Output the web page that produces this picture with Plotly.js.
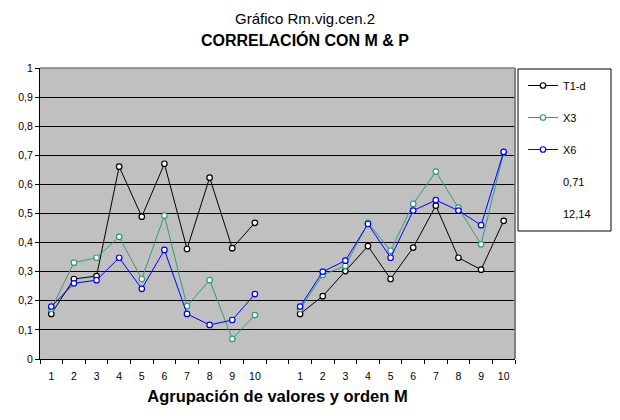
<!DOCTYPE html>
<html>
<head>
<meta charset="utf-8">
<script src="https://cdn.plot.ly/plotly-3.0.1.min.js"></script>
<style>
  html, body { margin: 0; padding: 0; background: #ffffff; }
  #chart { width: 620px; height: 420px; }
</style>
</head>
<body>
<div id="chart"></div>
<script>
// Category labels (two groups of orden M, separated by an empty slot)
var categories = ['1', '2', '3', '4', '5', '6', '7', '8', '9', '10'];

// Series values, group 1 and group 2
var t1d_g1 = [0.155, 0.275, 0.285, 0.661, 0.489, 0.671, 0.378, 0.623, 0.381, 0.468];
var t1d_g2 = [0.155, 0.216, 0.302, 0.388, 0.275, 0.383, 0.527, 0.348, 0.307, 0.475];

var x3_g1 = [0.172, 0.331, 0.348, 0.420, 0.275, 0.493, 0.182, 0.271, 0.069, 0.151];
var x3_g2 = [0.172, 0.289, 0.320, 0.468, 0.372, 0.533, 0.644, 0.520, 0.394, 0.710];

var x6_g1 = [0.180, 0.260, 0.271, 0.348, 0.241, 0.375, 0.155, 0.117, 0.134, 0.223];
var x6_g2 = [0.180, 0.300, 0.338, 0.464, 0.348, 0.510, 0.546, 0.510, 0.460, 0.712];

// Extra legend entries (no marks)
var extraLegend = ['0,71', '12,14'];

// Y tick labels
var yTickVals = [0, 0.1, 0.2, 0.3, 0.4, 0.5, 0.6, 0.7, 0.8, 0.9, 1];
var yTickText = ['0', '0,1', '0,2', '0,3', '0,4', '0,5', '0,6', '0,7', '0,8', '0,9', '1'];

// Build positions: group 1 at 1..10, empty slot, group 2 at 12..21
var n = categories.length;
var xPos = [], tickVals = [], tickText = [];
for (var i = 0; i < n; i++) { xPos.push(i + 1); tickVals.push(i + 1); tickText.push(categories[i]); }
xPos.push(n + 1);
for (var j = 0; j < n; j++) { xPos.push(n + 2 + j); tickVals.push(n + 2 + j); tickText.push(categories[j]); }
function join(a, b) { return a.concat([null]).concat(b); }

function series(name, g1, g2, color, grp) {
  return {
    type: 'scatter', mode: 'lines+markers', name: name, legendgroup: grp,
    x: xPos, y: join(g1, g2), connectgaps: false,
    line: { color: color, width: 1 },
    marker: { symbol: 'circle', size: 5.5, color: '#ffffff', line: { color: color, width: 1.2 } },
    hoverinfo: 'skip'
  };
}

var traces = [
  series('T1-d', t1d_g1, t1d_g2, '#000000', 'a'),
  series('X3', x3_g1, x3_g2, '#339980', 'b'),
  series('X6', x6_g1, x6_g2, '#0000ff', 'c')
];
extraLegend.forEach(function (lbl, k) {
  traces.push({
    type: 'scatter', mode: 'lines', name: lbl, legendgroup: 'e' + k,
    x: [null], y: [null],
    line: { color: 'rgba(0,0,0,0)', width: 0 }, hoverinfo: 'skip'
  });
});

var font = 'Liberation Sans, Arial, sans-serif';
var layout = {
  width: 620, height: 420,
  margin: { l: 40, r: 105, t: 68, b: 61 },
  paper_bgcolor: '#ffffff',
  plot_bgcolor: '#c0c0c0',
  font: { family: font, size: 11, color: '#000000' },
  title: {
    text: 'Gráfico Rm.vig.cen.2',
    font: { family: font, size: 15, color: '#000000' },
    x: 0.492, xanchor: 'center', y: 1 - 19 / 420, yanchor: 'middle'
  },
  annotations: [{
    text: '<b>CORRELACIÓN CON M &amp; P</b>',
    xref: 'paper', yref: 'paper', x: (305 - 40) / 475, y: (359 - 40) / 291,
    xanchor: 'center', yanchor: 'middle', showarrow: false,
    font: { family: font, size: 16, color: '#000000' }
  }],
  xaxis: {
    range: [0.5, 2 * n + 1.5], fixedrange: true,
    tickvals: tickVals, ticktext: tickText,
    ticks: 'outside', ticklen: 0, ticklabelstandoff: 7,
    tickfont: { family: font, size: 10.5 },
    minor: { tick0: 0.5, dtick: 1, ticks: 'outside', ticklen: 4, tickcolor: '#000000', tickwidth: 1, showgrid: false },
    showline: true, linecolor: '#000000', linewidth: 1,
    showgrid: false, zeroline: false,
    title: { text: '<b>Agrupación de valores y orden M</b>', font: { family: font, size: 16.5 }, standoff: 9 }
  },
  yaxis: {
    range: [0, 1], fixedrange: true,
    tickvals: yTickVals, ticktext: yTickText,
    ticks: 'outside', ticklen: 4, tickcolor: '#000000',
    tickfont: { family: font, size: 10.5 },
    showline: true, linecolor: '#000000', linewidth: 1,
    showgrid: true, gridcolor: '#000000', gridwidth: 1, zeroline: false
  },
  shapes: [
    { type: 'line', xref: 'paper', yref: 'paper', x0: 0, x1: 1, y0: 1, y1: 1, line: { color: '#808080', width: 1.5 }, layer: 'above' },
    { type: 'line', xref: 'paper', yref: 'paper', x0: 1, x1: 1, y0: 0, y1: 1, line: { color: '#808080', width: 2 }, layer: 'above' },
    { type: 'rect', xref: 'paper', yref: 'paper', x0: (518 - 40) / 475, x1: (611 - 40) / 475, y0: (359 - 231) / 291, y1: (359 - 69) / 291, line: { color: '#000000', width: 1 }, fillcolor: 'rgba(0,0,0,0)' }
  ],
  showlegend: true,
  legend: {
    x: (523 - 40) / 475, xanchor: 'left', y: (359 - 71) / 291, yanchor: 'top',
    bgcolor: 'rgba(0,0,0,0)', borderwidth: 0,
    traceorder: 'grouped', tracegroupgap: 13,
    font: { family: font, size: 11, color: '#000000' }
  }
};

Plotly.newPlot('chart', traces, layout, { displayModeBar: false, staticPlot: true });
</script>
</body>
</html>
